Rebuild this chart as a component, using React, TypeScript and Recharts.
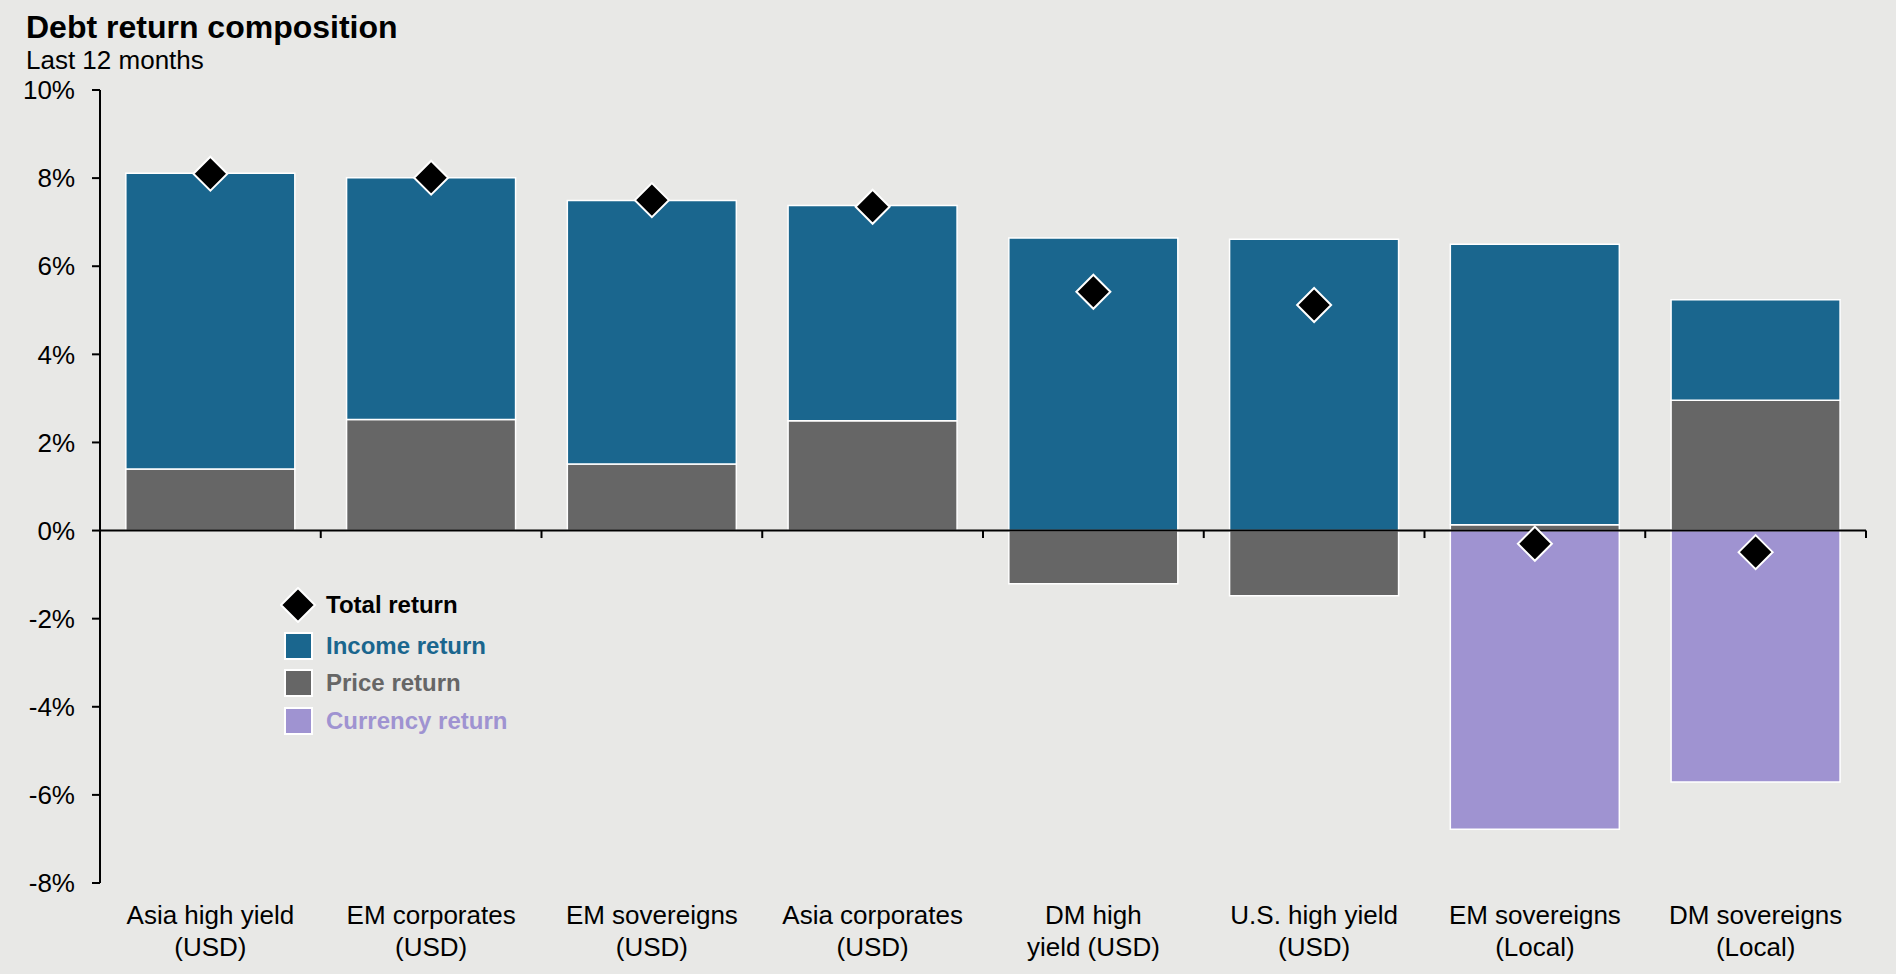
import { ComposedChart, Bar, Scatter, XAxis, YAxis, ReferenceLine, Legend } from 'recharts';

const categories = [
  'Asia high yield\n(USD)',
  'EM corporates\n(USD)',
  'EM sovereigns\n(USD)',
  'Asia corporates\n(USD)',
  'DM high\nyield (USD)',
  'U.S. high yield\n(USD)',
  'EM sovereigns\n(Local)',
  'DM sovereigns\n(Local)',
];
const incomeReturn = [6.71, 5.49, 5.98, 4.89, 6.64, 6.61, 6.37, 2.28];
const priceReturn = [1.4, 2.52, 1.51, 2.49, -1.21, -1.48, 0.13, 2.96];
const currencyReturn = [null, null, null, null, null, null, -6.78, -5.71];
const totalReturn = [8.1, 8.01, 7.5, 7.35, 5.42, 5.12, -0.3, -0.49];
const yTicks = [-8, -6, -4, -2, 0, 2, 4, 6, 8, 10];

const INCOME = '#1A668E';
const PRICE = '#666666';
const CURRENCY = '#9F93D1';
const BG = '#E8E8E6';
const FONT = '"Liberation Sans", Arial, sans-serif';

const data = categories.map((name, i) => ({
  name,
  income: incomeReturn[i],
  price: priceReturn[i],
  currency: currencyReturn[i],
  total: totalReturn[i],
}));

const Diamond = ({ cx, cy }: any) => {
  if (cx == null || cy == null) return null;
  const r = 17;
  return (
    <polygon
      points={`${cx},${cy - r} ${cx + r},${cy} ${cx},${cy + r} ${cx - r},${cy}`}
      fill="#000"
      stroke="#fff"
      strokeWidth={2}
    />
  );
};

const CategoryTick = ({ x, y, payload }: any) => {
  const lines = String(payload.value).split('\n');
  return (
    <text x={x} y={y} textAnchor="middle" fontSize={26} fill="#000" fontFamily={FONT}>
      {lines.map((l, i) => (
        <tspan key={i} x={x} y={y + 41 + i * 32}>
          {l}
        </tspan>
      ))}
    </text>
  );
};

const legendItems = [
  { label: 'Total return', color: '#000', kind: 'diamond', h: 45 },
  { label: 'Income return', color: INCOME, kind: 'square', h: 37 },
  { label: 'Price return', color: PRICE, kind: 'square', h: 38 },
  { label: 'Currency return', color: CURRENCY, kind: 'square', h: 38 },
];

const LegendBox = () => (
  <div style={{ fontFamily: FONT, fontWeight: 'bold', fontSize: 24, textAlign: 'left' }}>
    {legendItems.map((it) => (
      <div key={it.label} style={{ display: 'flex', alignItems: 'center', height: it.h }}>
        <svg width={40} height={36} style={{ marginRight: 6 }}>
          {it.kind === 'diamond' ? (
            <polygon points="18,1 35,18 18,35 1,18" fill="#000" stroke="#fff" strokeWidth={2} />
          ) : (
            <rect x={5} y={5} width={27} height={26} fill={it.color} stroke="#fff" strokeWidth={2} />
          )}
        </svg>
        <span style={{ color: it.color }}>{it.label}</span>
      </div>
    ))}
  </div>
);

export default function App() {
  return (
    <div
      style={{
        position: 'absolute',
        left: 0,
        top: 0,
        width: 1896,
        height: 974,
        background: BG,
        fontFamily: FONT,
        overflow: 'hidden',
      }}
    >
      <div style={{ position: 'absolute', left: 26, top: 9, fontSize: 32, fontWeight: 'bold', color: '#000' }}>
        Debt return composition
      </div>
      <div style={{ position: 'absolute', left: 26, top: 45, fontSize: 26, color: '#000' }}>
        Last 12 months
      </div>
      <ComposedChart
        width={1896}
        height={974}
        data={data}
        stackOffset="sign"
        barCategoryGap="11.7%"
        margin={{ top: 90, right: 30, left: 12, bottom: 1 }}
      >
        <XAxis
          dataKey="name"
          axisLine={false}
          tickLine={false}
          tickSize={0}
          tickMargin={0}
          height={90}
          interval={0}
          tick={<CategoryTick />}
        />
        <YAxis
          domain={[-8, 10]}
          ticks={yTicks}
          interval={0}
          width={88}
          tickSize={8}
          tickMargin={17}
          tickFormatter={(v) => `${v}%`}
          axisLine={{ stroke: '#000', strokeWidth: 2 }}
          tickLine={{ stroke: '#000', strokeWidth: 2 }}
          tick={{ fill: '#000', fontSize: 26, fontFamily: FONT }}
        />
        <Bar dataKey="price" stackId="a" fill={PRICE} stroke="#fff" strokeWidth={1.5} isAnimationActive={false} />
        <Bar dataKey="income" stackId="a" fill={INCOME} stroke="#fff" strokeWidth={1.5} isAnimationActive={false} />
        <Bar dataKey="currency" stackId="a" fill={CURRENCY} stroke="#fff" strokeWidth={1.5} isAnimationActive={false} />
        <ReferenceLine y={0} stroke="#000" strokeWidth={2} />
        {/* small tick marks on the zero line, at the right edge of each category band */}
        {categories.map((c) => (
          <ReferenceLine
            key={c}
            position="end"
            segment={[
              { x: c, y: 0 },
              { x: c, y: -0.17 },
            ]}
            stroke="#000"
            strokeWidth={2}
          />
        ))}
        <Scatter dataKey="total" shape={<Diamond />} isAnimationActive={false} />
        <Legend
          layout="vertical"
          verticalAlign="middle"
          align="center"
          content={<LegendBox />}
          wrapperStyle={{ left: 280, top: 582, width: 300 }}
        />
      </ComposedChart>
    </div>
  );
}
